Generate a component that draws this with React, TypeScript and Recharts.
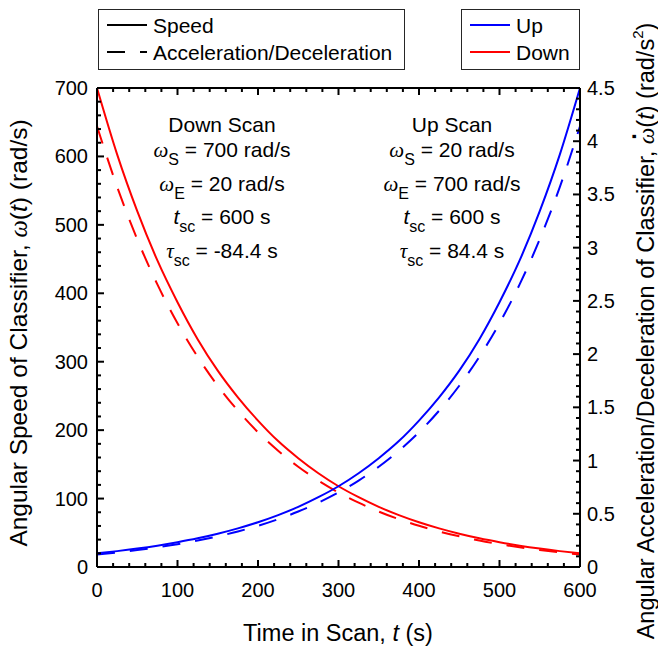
import React from 'react';
import { ComposedChart, Line, XAxis, YAxis } from 'recharts';

// ---- data ----
const timeS = [0, 25, 50, 75, 100, 125, 150, 175, 200, 225, 250, 275, 300, 325, 350, 375, 400, 425, 450, 475, 500, 525, 550, 575, 600];
const upSpeed = [20, 23.2, 26.9, 31.2, 36.2, 41.9, 48.6, 56.4, 65.4, 75.8, 87.9, 102, 118, 137, 159, 184, 214, 248, 287, 333, 387, 448, 520, 603, 700];
const downSpeed = [700, 603, 520, 448, 387, 333, 287, 248, 214, 184, 159, 137, 118, 102, 87.9, 75.8, 65.4, 56.4, 48.6, 41.9, 36.2, 31.2, 26.9, 23.2, 20];
const upAccel = [0.118, 0.137, 0.159, 0.185, 0.214, 0.248, 0.288, 0.334, 0.387, 0.449, 0.521, 0.604, 0.7, 0.812, 0.942, 1.092, 1.266, 1.469, 1.703, 1.975, 2.29, 2.655, 3.079, 3.571, 4.141];
const downAccel = [4.141, 3.571, 3.079, 2.655, 2.29, 1.975, 1.703, 1.469, 1.266, 1.092, 0.942, 0.812, 0.7, 0.604, 0.521, 0.449, 0.387, 0.334, 0.288, 0.248, 0.214, 0.185, 0.159, 0.137, 0.118];

const xAllTicks = Array.from({ length: 31 }, (_, i) => i * 20);
const yLeftAllTicks = Array.from({ length: 36 }, (_, i) => i * 20);
const yRightMajorLabels = ['0', '0.5', '1', '1.5', '2', '2.5', '3', '3.5', '4', '4.5'];
const yRightAllTicks = Array.from({ length: 46 }, (_, i) => i / 10);

const downScan = { title: 'Down Scan', wS: '700', wE: '20', tsc: '600', tau: '-84.4' };
const upScan = { title: 'Up Scan', wS: '20', wE: '700', tsc: '600', tau: '84.4' };

const data = timeS.map((t, i) => ({
  t,
  upSpeed: upSpeed[i],
  downSpeed: downSpeed[i],
  upAccel: upAccel[i],
  downAccel: downAccel[i],
}));

const FONT = '"Liberation Sans", Arial, Helvetica, sans-serif';
const SERIF = '"Liberation Serif", "DejaVu Serif", serif';
const FS = 21;
const LABEL_FS = 23.5;
const LEFT_LABEL_FS = 24.5;
const TICK_FS = 20;
const DASH = '18 15';
const BLUE = '#0000ff';
const RED = '#ff0000';

const isMajor = (v: number, step: number) => Math.abs(v / step - Math.round(v / step)) < 1e-6;

const BottomTick = (props: any) => {
  const { x, y, payload } = props;
  const v = payload.value;
  const major = isMajor(v, 100);
  return (
    <g>
      <line x1={x} x2={x} y1={y} y2={y - (major ? 7 : 4)} stroke="#000" strokeWidth={2} />
      {major && (
        <text x={x} y={y + 30} textAnchor="middle" fontSize={TICK_FS} fontFamily={FONT} fill="#000">
          {v}
        </text>
      )}
    </g>
  );
};

const TopTick = (props: any) => {
  const { x, y, payload } = props;
  const major = isMajor(payload.value, 100);
  return <line x1={x} x2={x} y1={y} y2={y + (major ? 7 : 4)} stroke="#000" strokeWidth={2} />;
};

const LeftTick = (props: any) => {
  const { x, y, payload } = props;
  const v = payload.value;
  const major = isMajor(v, 100);
  return (
    <g>
      <line x1={x} x2={x + (major ? 7 : 4)} y1={y} y2={y} stroke="#000" strokeWidth={2} />
      {major && (
        <text x={x - 9} y={y + 7} textAnchor="end" fontSize={TICK_FS} fontFamily={FONT} fill="#000">
          {v}
        </text>
      )}
    </g>
  );
};

const RightTick = (props: any) => {
  const { x, y, payload } = props;
  const v = payload.value;
  const major = isMajor(v, 0.5);
  const label = major ? yRightMajorLabels[Math.round(v * 2)] : null;
  return (
    <g>
      <line x1={x} x2={x - (major ? 7 : 4)} y1={y} y2={y} stroke="#000" strokeWidth={2} />
      {major && (
        <text x={x + 7} y={y + 7} textAnchor="start" fontSize={TICK_FS} fontFamily={FONT} fill="#000">
          {label}
        </text>
      )}
    </g>
  );
};

const Sub = ({ children }: { children: React.ReactNode }) => (
  <span style={{ fontSize: 16, position: 'relative', top: 8 }}>{children}</span>
);
const Omega = () => <span style={{ fontFamily: SERIF, fontStyle: 'italic' }}>ω</span>;
const Tau = () => <span style={{ fontFamily: SERIF, fontStyle: 'italic' }}>τ</span>;
const It = ({ children }: { children: React.ReactNode }) => <span style={{ fontStyle: 'italic' }}>{children}</span>;

const TextLine = ({ cx, baseline, children }: { cx: number; baseline: number; children: React.ReactNode }) => (
  <div
    style={{
      position: 'absolute',
      left: cx,
      top: baseline - 17.8,
      transform: 'translateX(-50%)',
      whiteSpace: 'nowrap',
      fontFamily: FONT,
      fontSize: FS,
      lineHeight: `${FS}px`,
      color: '#000',
    }}
  >
    {children}
  </div>
);

const ScanBlock = ({ cx, p }: { cx: number; p: typeof downScan }) => (
  <>
    <TextLine cx={cx} baseline={132}>{p.title}</TextLine>
    <TextLine cx={cx} baseline={157}>
      <Omega />
      <Sub>S</Sub> = {p.wS} rad/s
    </TextLine>
    <TextLine cx={cx} baseline={191}>
      <Omega />
      <Sub>E</Sub> = {p.wE} rad/s
    </TextLine>
    <TextLine cx={cx} baseline={224}>
      <It>t</It>
      <Sub>sc</Sub> = {p.tsc} s
    </TextLine>
    <TextLine cx={cx} baseline={258}>
      <Tau />
      <Sub>sc</Sub> = {p.tau} s
    </TextLine>
  </>
);

const LegendBox = ({ left, width, rows }: { left: number; width: number; rows: { label: string; color: string; dash?: string }[] }) => (
  <div
    style={{
      position: 'absolute',
      left,
      top: 9,
      width,
      height: 61,
      boxSizing: 'border-box',
      border: '1.5px solid #262626',
      background: '#fff',
    }}
  >
    <svg width={width} height={61} style={{ position: 'absolute', left: -1.5, top: -1.5 }}>
      {rows.map((r, i) => (
        <g key={r.label}>
          <line x1={9} x2={49} y1={16 + i * 27} y2={16 + i * 27} stroke={r.color} strokeWidth={2} strokeDasharray={r.dash} />
          <text x={55} y={16 + i * 27 + 7.5} fontSize={FS} fontFamily={FONT} fill="#000">
            {r.label}
          </text>
        </g>
      ))}
    </svg>
  </div>
);

export default function App() {
  return (
    <div style={{ position: 'absolute', left: 0, top: 0, width: 658, height: 653, background: '#fff', overflow: 'hidden' }}>
      <ComposedChart
        width={658}
        height={653}
        data={data}
        margin={{ top: 58, right: 18, bottom: 56, left: 37 }}
      >
        <XAxis
          xAxisId="b"
          dataKey="t"
          type="number"
          domain={[0, 600]}
          ticks={xAllTicks}
          interval={0}
          tick={<BottomTick />}
          tickLine={false}
          tickSize={0}
          tickMargin={0}
          height={30}
          axisLine={{ stroke: '#000', strokeWidth: 2 }}
          allowDataOverflow
        />
        <XAxis
          xAxisId="top"
          orientation="top"
          dataKey="t"
          type="number"
          domain={[0, 600]}
          ticks={xAllTicks}
          interval={0}
          tick={<TopTick />}
          tickLine={false}
          tickSize={0}
          tickMargin={0}
          height={30}
          axisLine={{ stroke: '#000', strokeWidth: 2 }}
          allowDataOverflow
        />
        <YAxis
          yAxisId="left"
          type="number"
          domain={[0, 700]}
          ticks={yLeftAllTicks}
          interval={0}
          tick={<LeftTick />}
          tickLine={false}
          tickSize={0}
          tickMargin={0}
          width={60}
          axisLine={{ stroke: '#000', strokeWidth: 2 }}
          allowDataOverflow
        />
        <YAxis
          yAxisId="right"
          orientation="right"
          type="number"
          domain={[0, 4.5]}
          ticks={yRightAllTicks}
          interval={0}
          tick={<RightTick />}
          tickLine={false}
          tickSize={0}
          tickMargin={0}
          width={60}
          axisLine={{ stroke: '#000', strokeWidth: 2 }}
          allowDataOverflow
        />
        <Line xAxisId="b" yAxisId="right" type="monotone" dataKey="downAccel" stroke={RED} strokeWidth={2} strokeDasharray={DASH} dot={false} isAnimationActive={false} />
        <Line xAxisId="b" yAxisId="right" type="monotone" dataKey="upAccel" stroke={BLUE} strokeWidth={2} strokeDasharray={DASH} dot={false} isAnimationActive={false} />
        <Line xAxisId="b" yAxisId="left" type="monotone" dataKey="downSpeed" stroke={RED} strokeWidth={2} dot={false} isAnimationActive={false} />
        <Line xAxisId="b" yAxisId="left" type="monotone" dataKey="upSpeed" stroke={BLUE} strokeWidth={2} dot={false} isAnimationActive={false} />
      </ComposedChart>

      <ScanBlock cx={222} p={downScan} />
      <ScanBlock cx={452} p={upScan} />

      <LegendBox
        left={98}
        width={307}
        rows={[
          { label: 'Speed', color: '#000' },
          { label: 'Acceleration/Deceleration', color: '#000', dash: DASH },
        ]}
      />
      <LegendBox
        left={461}
        width={119}
        rows={[
          { label: 'Up', color: BLUE },
          { label: 'Down', color: RED },
        ]}
      />

      <div
        style={{
          position: 'absolute',
          left: 338,
          top: 634,
          transform: 'translate(-50%, -50%)',
          whiteSpace: 'nowrap',
          fontFamily: FONT,
          fontSize: LABEL_FS,
          lineHeight: `${LABEL_FS}px`,
        }}
      >
        Time in Scan, <It>t</It> (s)
      </div>

      <div
        style={{
          position: 'absolute',
          left: 19,
          top: 333,
          transform: 'translate(-50%, -50%) rotate(-90deg)',
          whiteSpace: 'nowrap',
          fontFamily: FONT,
          fontSize: LEFT_LABEL_FS,
          lineHeight: `${LEFT_LABEL_FS}px`,
        }}
      >
        Angular Speed of Classifier, <Omega />(<It>t</It>) (rad/s)
      </div>

      <div
        style={{
          position: 'absolute',
          left: 643,
          top: 331,
          transform: 'translate(-50%, -50%) rotate(-90deg)',
          whiteSpace: 'nowrap',
          fontFamily: FONT,
          fontSize: LABEL_FS,
          lineHeight: `${LABEL_FS}px`,
        }}
      >
        Angular Acceleration/Deceleration of Classifier,{' '}
        <span style={{ position: 'relative', display: 'inline-block' }}>
          <Omega />
          <span
            style={{
              position: 'absolute',
              left: '50%',
              top: -12,
              transform: 'translateX(-50%)',
              fontFamily: FONT,
              fontSize: LABEL_FS,
              fontWeight: 'bold',
            }}
          >
            ·
          </span>
        </span>
        (<It>t</It>) (rad/s<sup style={{ fontSize: 15, position: 'relative', top: -2 }}>2</sup>)
      </div>
    </div>
  );
}
